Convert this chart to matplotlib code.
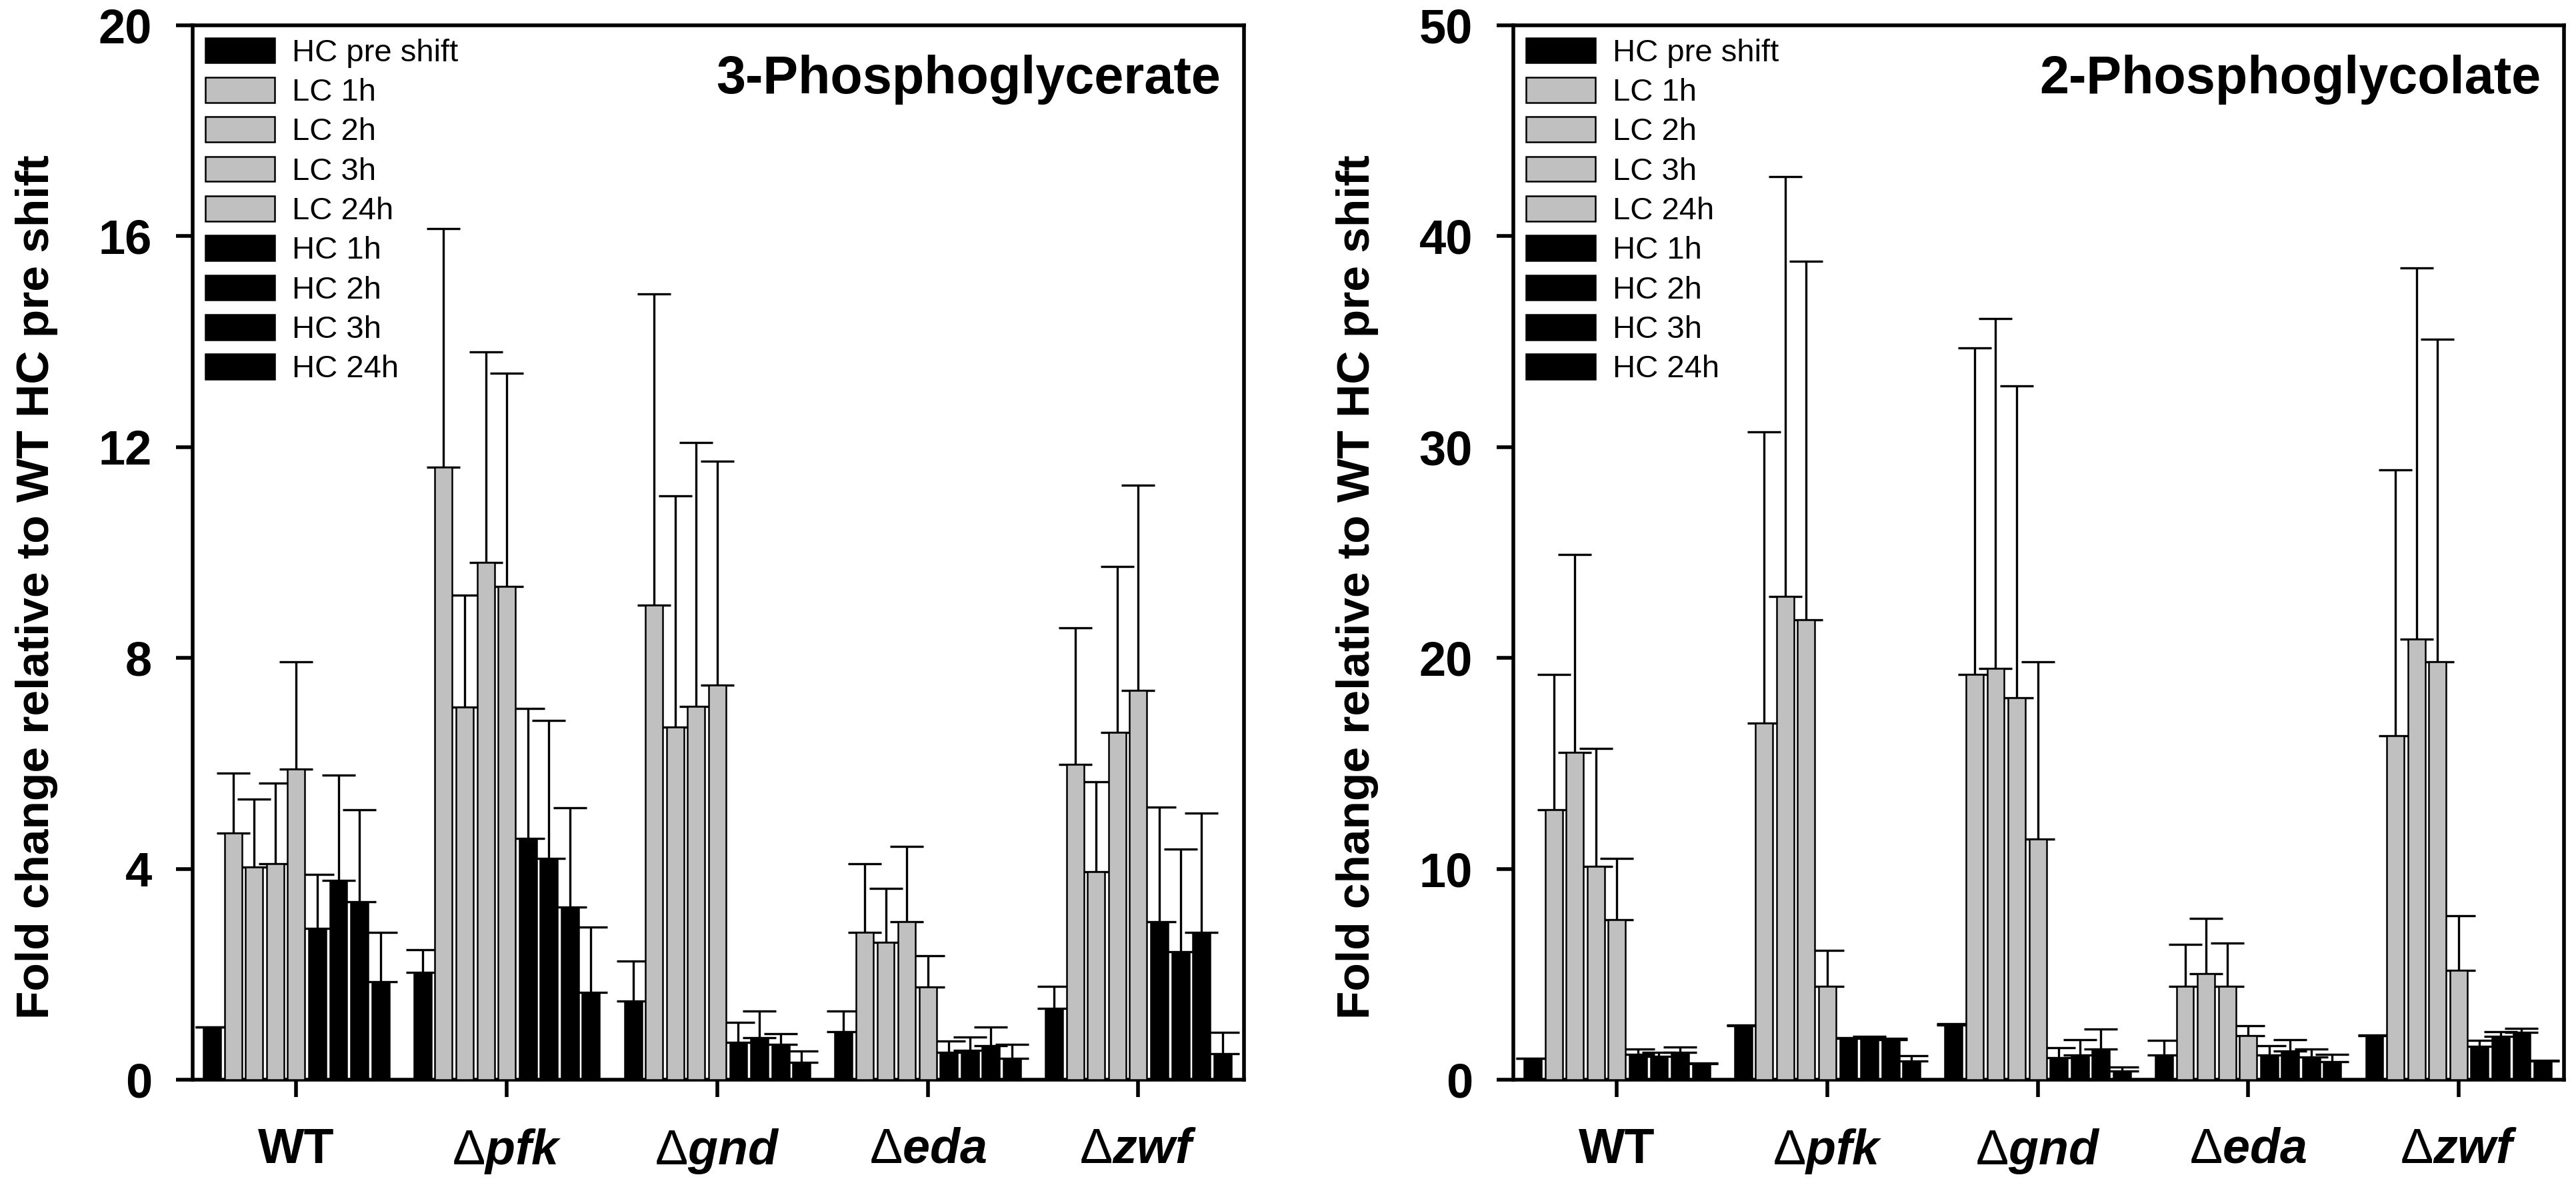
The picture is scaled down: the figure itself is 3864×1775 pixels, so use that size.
import numpy as np
import matplotlib
matplotlib.use("Agg")
import matplotlib.pyplot as plt
from matplotlib.patches import Patch

plt.rcParams["font.family"] = ["Liberation Sans", "DejaVu Sans"]
plt.rcParams["mathtext.fontset"] = "custom"
plt.rcParams["mathtext.rm"] = "Liberation Sans"
plt.rcParams["mathtext.it"] = "Liberation Sans:italic:bold"
plt.rcParams["mathtext.bf"] = "Liberation Sans:bold"

# Datos
cepas = ["WT", r"$\mathrm{\Delta}\mathit{pfk}$", r"$\mathrm{\Delta}\mathit{gnd}$",
         r"$\mathrm{\Delta}\mathit{eda}$", r"$\mathrm{\Delta}\mathit{zwf}$"]
condiciones = ["HC pre shift", "LC 1h", "LC 2h", "LC 3h", "LC 24h",
               "HC 1h", "HC 2h", "HC 3h", "HC 24h"]
colores = ["black", "#c0c0c0", "#c0c0c0", "#c0c0c0", "#c0c0c0",
           "black", "black", "black", "black"]

# 3-Phosphoglycerate (filas = cepas, columnas = condiciones)
pga_media = [
    [1.00, 4.68, 4.03, 4.10, 5.89, 2.87, 3.78, 3.38, 1.86],
    [2.04, 11.62, 7.06, 9.81, 9.35, 4.57, 4.20, 3.28, 1.65],
    [1.49, 9.00, 6.69, 7.08, 7.48, 0.71, 0.80, 0.67, 0.33],
    [0.91, 2.79, 2.61, 3.00, 1.76, 0.52, 0.56, 0.64, 0.40],
    [1.35, 5.98, 3.94, 6.58, 7.38, 2.99, 2.43, 2.79, 0.49],
]
pga_error = [
    [0.00, 1.14, 1.29, 1.52, 2.04, 1.02, 2.00, 1.74, 0.93],
    [0.42, 4.52, 2.13, 3.99, 4.05, 2.47, 2.61, 1.88, 1.24],
    [0.76, 5.90, 4.38, 5.00, 4.25, 0.38, 0.50, 0.20, 0.21],
    [0.39, 1.30, 1.02, 1.42, 0.59, 0.21, 0.25, 0.36, 0.27],
    [0.42, 2.59, 1.71, 3.15, 3.89, 2.18, 1.94, 2.27, 0.41],
]

# 2-Phosphoglycolate
pgl_media = [
    [1.00, 12.8, 15.5, 10.1, 7.6, 1.20, 1.10, 1.30, 0.75],
    [2.55, 16.9, 22.9, 21.8, 4.42, 1.95, 2.00, 1.90, 0.90],
    [2.60, 19.2, 19.5, 18.1, 11.4, 1.03, 1.18, 1.47, 0.42],
    [1.18, 4.42, 5.03, 4.42, 2.08, 1.18, 1.36, 1.09, 0.85],
    [2.08, 16.3, 20.9, 19.8, 5.19, 1.58, 2.06, 2.23, 0.88],
]
pgl_error = [
    [0.00, 6.4, 9.4, 5.6, 2.9, 0.25, 0.20, 0.25, 0.05],
    [0.05, 13.8, 19.9, 17.0, 1.71, 0.05, 0.05, 0.05, 0.25],
    [0.05, 15.5, 16.6, 14.8, 8.4, 0.48, 0.72, 0.92, 0.17],
    [0.68, 2.01, 2.63, 2.06, 0.48, 0.44, 0.54, 0.38, 0.35],
    [0.05, 12.6, 17.6, 15.3, 2.58, 0.28, 0.22, 0.22, 0.05],
]

titulos = ["3-Phosphoglycerate", "2-Phosphoglycolate"]
ylims = [20, 50]
yticks = [[0, 4, 8, 12, 16, 20], [0, 10, 20, 30, 40, 50]]


def dibujar_panel(ax, media, error, titulo, ymax, ticks):
    media = np.array(media)
    error = np.array(error)
    centros = np.arange(len(cepas)) * 10
    for i, cond in enumerate(condiciones):
        x = centros + (i - 4)
        ax.errorbar(x, media[:, i], yerr=[np.zeros(len(cepas)), error[:, i]],
                    fmt="none", ecolor="black", elinewidth=1.2, capsize=9,
                    capthick=1.2, zorder=2)
        ax.bar(x, media[:, i], width=0.82, color=colores[i],
               edgecolor="black", linewidth=0.9, zorder=3)

    ax.set_xlim(-4.92, 45.02)
    ax.set_ylim(0, ymax)
    ax.set_yticks(ticks)
    ax.set_xticks(centros)
    ax.set_xticklabels(cepas, fontsize=26.5, fontweight="bold")
    for t in ax.get_yticklabels():
        t.set_fontsize(26)
        t.set_fontweight("bold")
    ax.tick_params(axis="y", direction="out", length=9, width=2, pad=13)
    ax.tick_params(axis="x", direction="out", length=9.5, width=2, pad=16)
    for s in ax.spines.values():
        s.set_linewidth(2)

    ax.set_ylabel("Fold change relative to WT HC pre shift", fontsize=25,
                  fontweight="bold")
    ax.yaxis.set_label_coords(-0.128, 0.467)

    ax.text(0.978, 0.935, titulo, transform=ax.transAxes, ha="right",
            va="baseline", fontsize=28.5, fontweight="bold")

    handles = [Patch(facecolor=colores[i], edgecolor="black", linewidth=0.9)
               for i in range(len(condiciones))]
    ax.legend(handles, condiciones, loc="upper left", bbox_to_anchor=(0.0, 1.0),
              frameon=False, fontsize=17, handlelength=2.2, handleheight=0.85,
              handletextpad=0.55, labelspacing=0.3, borderaxespad=0.2,
              borderpad=0.2)


fig = plt.figure(figsize=(19.32, 8.875), dpi=200)
ax1 = fig.add_axes([0.0748, 0.0873, 0.4081, 0.8915])
ax2 = fig.add_axes([0.5875, 0.0873, 0.4079, 0.8915])

dibujar_panel(ax1, pga_media, pga_error, titulos[0], ylims[0], yticks[0])
dibujar_panel(ax2, pgl_media, pgl_error, titulos[1], ylims[1], yticks[1])

fig.savefig("out.png", dpi=200)
plt.close(fig)
